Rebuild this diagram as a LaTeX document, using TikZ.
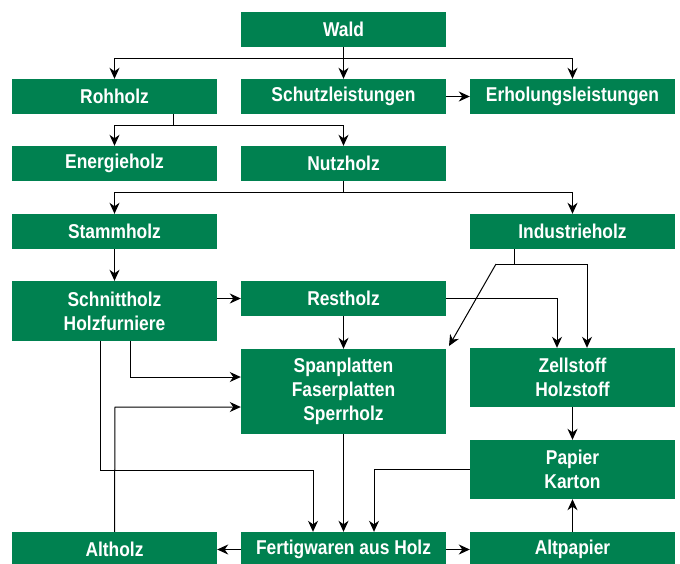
\documentclass[tikz,border=0pt]{standalone}
\usepackage{fontspec}
\setmainfont[FakeStretch=0.87]{Liberation Sans}
\usetikzlibrary{arrows.meta,calc}
\definecolor{boxgreen}{RGB}{0,129,80}
\begin{document}
\begin{tikzpicture}[x=1pt,y=-1pt,
  box/.style={fill=boxgreen,text=white,font=\fontsize{20}{24}\selectfont\bfseries,
    minimum width=205pt,minimum height=35pt,inner sep=0pt,align=center,anchor=center},
  conn/.style={draw=black,line width=1pt},
  arr/.style={conn,-{Stealth[length=11pt,width=10pt,inset=3.5pt]}}]
\useasboundingbox (0,0) rectangle (680,563);
% nodes
\node[box] (wald) at (343.5,29.5) {Wald};
\node[box] (roh) at (114.5,96.5) {Rohholz};
\node[box] (schutz) at (343.5,96.5) {Schutzleistungen};
\node[box] (erh) at (572.5,96.5) {Erholungsleistungen};
\node[box] (energ) at (114.5,163.5) {Energieholz};
\node[box] (nutz) at (343.5,163.5) {Nutzholz};
\node[box] (stamm) at (114.5,231.5) {Stammholz};
\node[box] (indu) at (572.5,231.5) {Industrieholz};
\node[box,minimum height=60pt] (schnitt) at (114.5,311) {Schnittholz\\Holzfurniere};
\node[box] (rest) at (343.5,298.5) {Restholz};
\node[box,minimum height=85pt] (span) at (343.5,391.5) {Spanplatten\\Faserplatten\\Sperrholz};
\node[box,minimum height=59pt] (zell) at (572.5,377.5) {Zellstoff\\Holzstoff};
\node[box,minimum height=59pt] (pap) at (572.5,469.5) {Papier\\Karton};
\node[box] (altholz) at (114.5,549.5) {Altholz};
\node[box] (fert) at (343.5,549.5) {Fertigwaren aus Holz};
\node[box] (altpap) at (572.5,549.5) {Altpapier};
% coordinates
\coordinate (w1) at (343.5,58);
\coordinate (r1) at (173,125);
\coordinate (n1) at (343.5,192);
\coordinate (i1) at (514,264);
\coordinate (i2) at (496,264);
\coordinate (i3) at (587,264);
\coordinate (sptip) at (449,346);
% Wald
\draw[conn] (wald.south) -- (w1);
\draw[arr] (w1) -| (roh.north);
\draw[arr] (w1) -- (schutz.north);
\draw[arr] (w1) -| (erh.north);
\draw[arr] (schutz.east) -- (erh.west);
% Rohholz
\draw[conn] (r1 |- roh.south) -- (r1);
\draw[arr] (r1) -| (energ.north);
\draw[arr] (r1) -| (nutz.north);
% Nutzholz
\draw[conn] (nutz.south) -- (n1);
\draw[arr] (n1) -| (stamm.north);
\draw[arr] (n1) -| (indu.north);
% Stammholz
\draw[arr] (stamm.south) -- (schnitt.north);
% Schnittholz
\draw[arr] (rest.west -| schnitt.east) -- (rest.west);
\draw[arr] (130,341) |- ($(span.west)+(0,-14.5)$);
\draw[arr] (100,341) -- (100,470) -| ($(fert.north)+(-30.5,0)$);
% Restholz
\draw[arr] (rest.south) -- (span.north);
\draw[arr] (rest.east) -| ($(zell.north)+(-15.5,0)$);
% Industrieholz
\draw[conn] (i1 |- indu.south) -- (i1);
\draw[conn] (i2) -- (i3);
\draw[arr] (i2) -- (sptip);
\draw[arr] (i3) -- (i3 |- zell.north);
% Altholz
\draw[arr] (altholz.north) -- (115,407) -- ($(span.west)+(0,15.5)$);
% Spanplatten
\draw[arr] (span.south) -- (fert.north);
% Zellstoff / Papier
\draw[arr] (zell.south) -- (pap.north);
\draw[arr] (pap.west) -| ($(fert.north)+(30.5,0)$);
\draw[arr] (altpap.north) -- (pap.south);
% Fertigwaren
\draw[arr] (fert.west) -- (altholz.east);
\draw[arr] (fert.east) -- (altpap.west);
\end{tikzpicture}
\end{document}
